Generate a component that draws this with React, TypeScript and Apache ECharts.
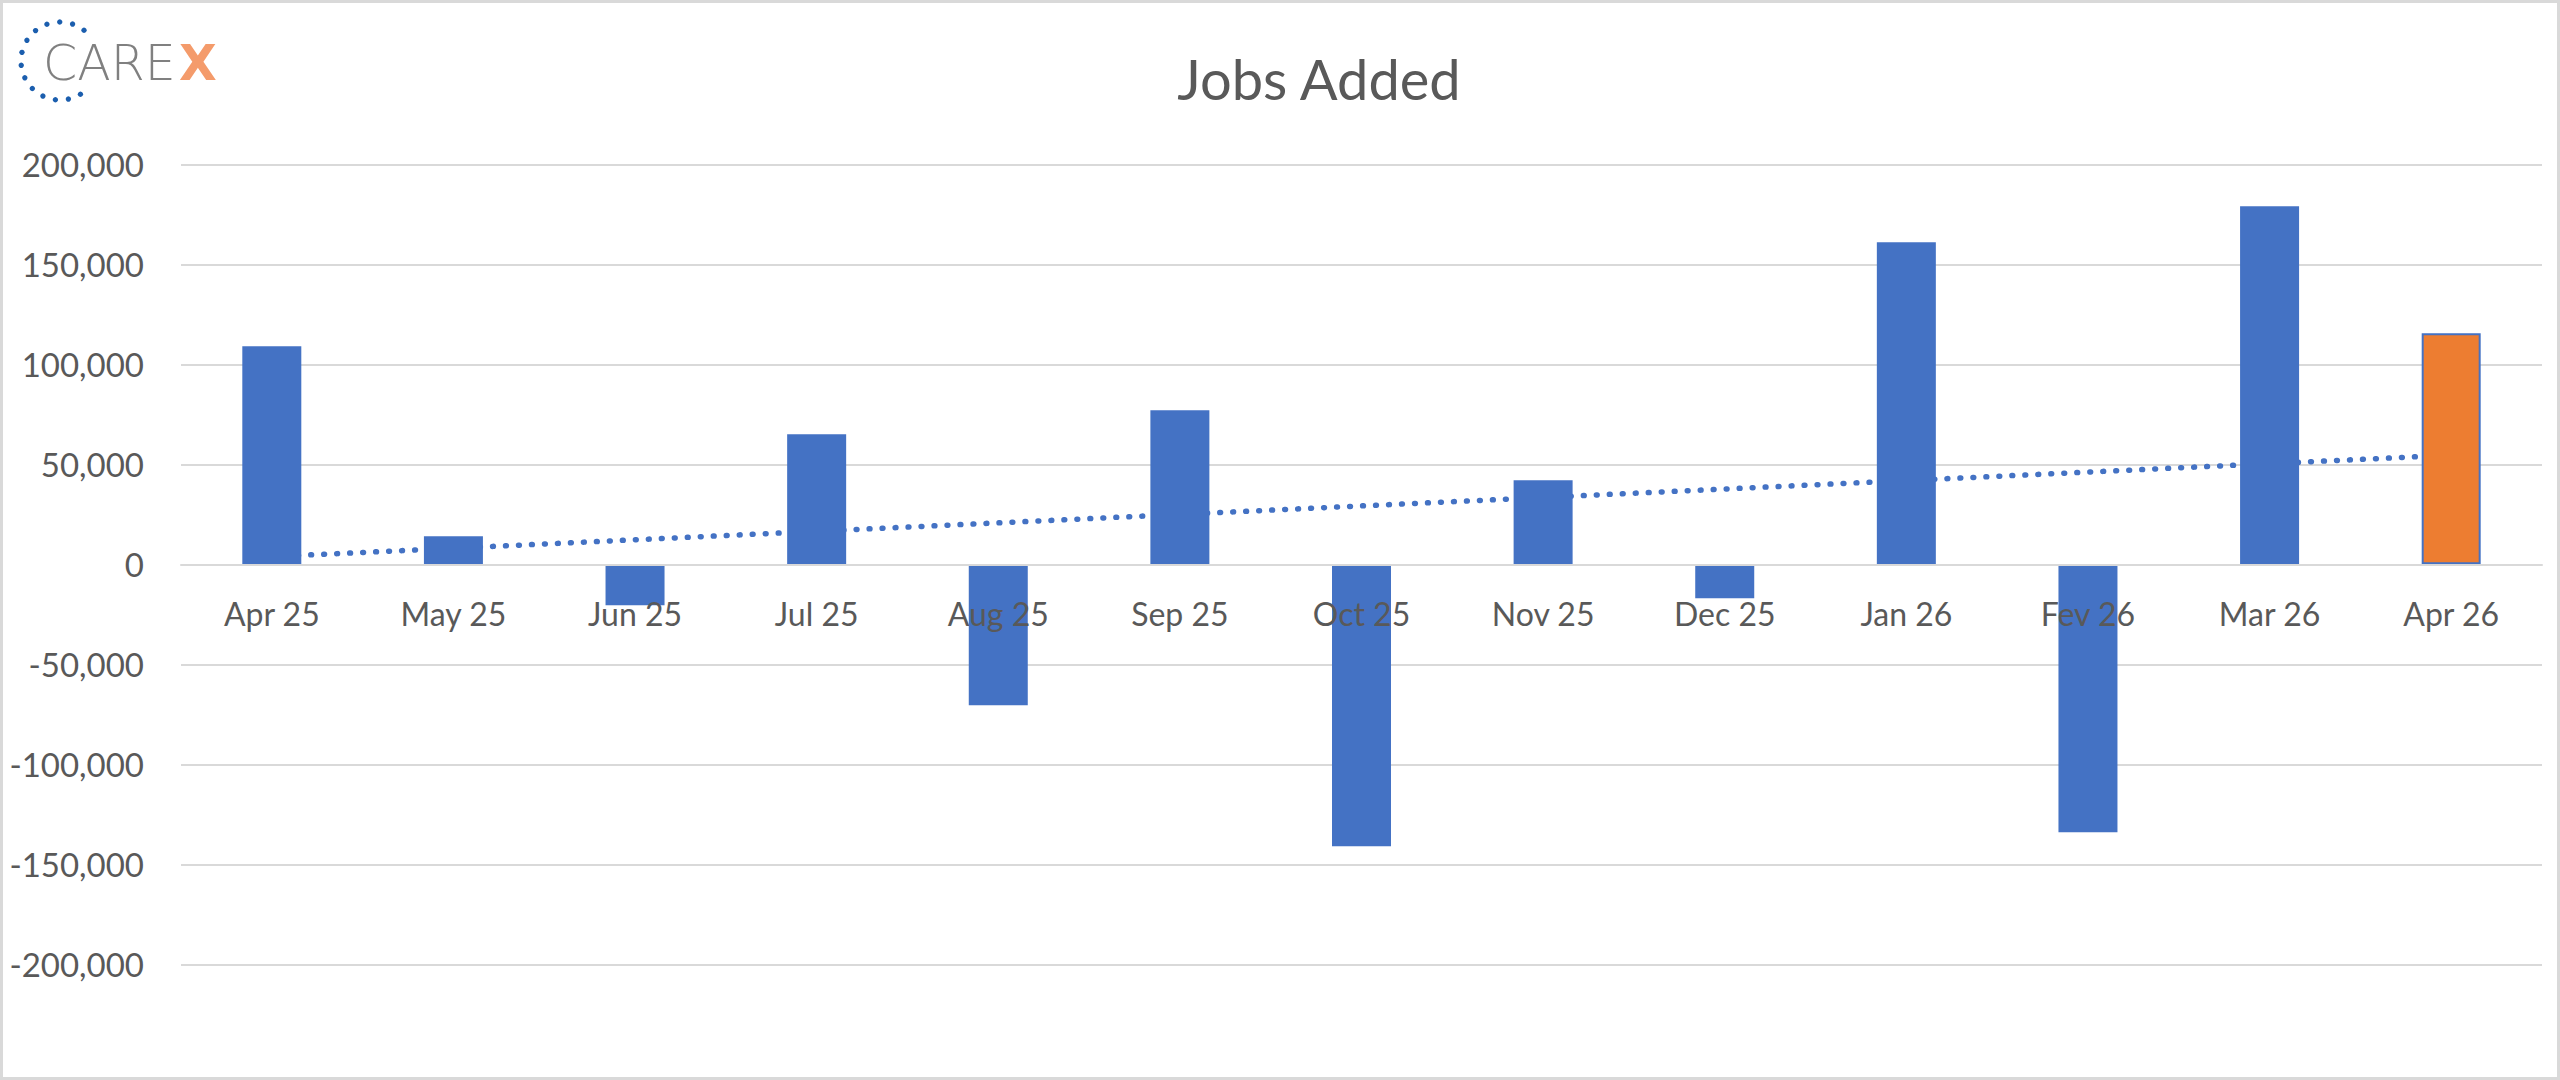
import React, { useEffect, useRef } from "react";
import * as echarts from "echarts";

const months = ["Apr 25", "May 25", "Jun 25", "Jul 25", "Aug 25", "Sep 25", "Oct 25", "Nov 25", "Dec 25", "Jan 26", "Fev 26", "Mar 26", "Apr 26"];
const jobsAdded = [109000, 14000, -20500, 65000, -70500, 77000, -141000, 42000, -17000, 161000, -134000, 179000, 115500];
const highlightIndex = 12;
const yMin = -200000;
const yMax = 200000;
const yStep = 50000;
const titleText = "Jobs Added";

function linearTrend(values: number[]): number[] {
  const n = values.length;
  const mx = (n - 1) / 2;
  const my = values.reduce((a, b) => a + b, 0) / n;
  let sxy = 0;
  let sxx = 0;
  values.forEach((v, i) => {
    sxy += (i - mx) * (v - my);
    sxx += (i - mx) * (i - mx);
  });
  const slope = sxy / sxx;
  return values.map((_, i) => my + slope * (i - mx));
}

export default function App() {
  const ref = useRef<HTMLDivElement>(null);
  useEffect(() => {
    if (!ref.current) return;
    const chart = echarts.init(ref.current, undefined, { renderer: "svg" });
    const trend = linearTrend(jobsAdded);

    const gridTop = 164.3;
    const gridBottom = 115.7;
    const plotH = 1080 - gridTop - gridBottom;
    const zeroOffset = -plotH * (0 - yMin) / (yMax - yMin);

    const dots: any[] = [];
    const cx = 60, cy = 61, r = 39;
    for (let k = 0; k < 14; k++) {
      const ang = ((-52 - k * 19.2) * Math.PI) / 180;
      dots.push({
        type: "circle",
        shape: { cx: cx + r * Math.cos(ang), cy: cy + r * Math.sin(ang), r: 2.7 },
        style: { fill: "#1B5EAE" },
      });
    }

    chart.setOption({
      animation: false,
      backgroundColor: "#ffffff",
      grid: { left: 181, right: 18, top: gridTop, bottom: gridBottom, containLabel: false },
      xAxis: {
        type: "category",
        data: months,
        z: 6,
        offset: zeroOffset,
        axisLine: { onZero: false, lineStyle: { color: "#D9D9D9", width: 2 } },
        axisTick: { show: false },
        axisLabel: { color: "#595959", fontFamily: "Lato", fontSize: 32, margin: 33 },
        splitLine: { show: false },
      },
      yAxis: {
        type: "value",
        min: yMin,
        max: yMax,
        interval: yStep,
        axisLine: { show: false },
        axisTick: { show: false },
        axisLabel: {
          color: "#595959",
          fontFamily: "Lato",
          fontSize: 33,
          margin: 37,
          formatter: (v: number) => v.toLocaleString("en-US"),
        },
        splitLine: { lineStyle: { color: "#D9D9D9", width: 2 } },
      },
      series: [
        {
          type: "bar",
          z: 3,
          barWidth: 59,
          data: jobsAdded.map((v, i) =>
            i === highlightIndex
              ? { value: v, itemStyle: { color: "#ED7D31", borderColor: "#4472C4", borderWidth: 2 } }
              : { value: v, itemStyle: { color: "#4472C4" } }
          ),
        },
        {
          type: "line",
          z: 2,
          data: trend,
          symbol: "none",
          silent: true,
          lineStyle: { color: "#4472C4", width: 5.5, type: [0.8, 12.2], cap: "round" },
        },
      ],
      graphic: [
        {
          type: "rect",
          shape: { x: 1.5, y: 1.5, width: 2557, height: 1077 },
          style: { fill: "none", stroke: "#D9D9D9", lineWidth: 3 },
          silent: true,
        },
        {
          type: "text",
          x: 1319,
          y: 78,
          style: {
            text: titleText,
            fill: "#595959",
            font: "56px Lato",
            textAlign: "center",
            textVerticalAlign: "middle",
          },
        },
        ...dots,
        {
          type: "text",
          x: 43,
          y: 63,
          style: {
            text: "CARE",
            fill: "#808080",
            font: "200 49px 'DejaVu Sans'",
            textAlign: "left",
            textVerticalAlign: "middle",
          },
        },
        {
          type: "text",
          x: 179,
          y: 63,
          style: {
            text: "X",
            fill: "#F49B6B",
            font: "bold 49px 'DejaVu Sans'",
            textAlign: "left",
            textVerticalAlign: "middle",
          },
        },
      ],
    });
    return () => chart.dispose();
  }, []);
  return <div ref={ref} style={{ position: "absolute", left: 0, top: 0, width: 2560, height: 1080 }} />;
}
